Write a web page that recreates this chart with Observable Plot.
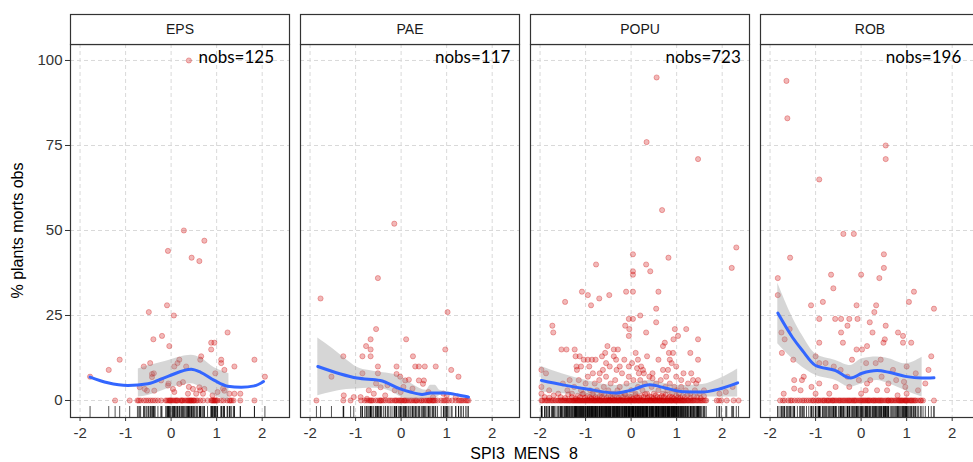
<!DOCTYPE html>
<html>
<head>
<meta charset="utf-8">
<script src="https://cdn.jsdelivr.net/npm/d3@7"></script>
<script src="https://cdn.jsdelivr.net/npm/@observablehq/plot@0.6"></script>
<style>
  html, body { margin: 0; padding: 0; background: #fff; overflow: hidden; }
  #chart { width: 973px; height: 462px; overflow: hidden; }
  #chart svg { max-width: none !important; }
</style>
</head>
<body>
<div id="chart"></div>
<script>
// ---------- categories ----------
const groups = ["EPS", "PAE", "POPU", "ROB"];
const nobs = [125, 117, 723, 196];
const nobsX = [2.26, 2.40, 2.41, 2.20];   // right end of the label (data units)
const nobsY = [101, 101, 101, 101];

const xTicks = [-2, -1, 0, 1, 2];
const yTicks = [0, 25, 50, 75, 100];

// ---------- observations: [x, y] (non-zero) and x of zero observations ----------
const epsPts = [[0.39,100],[0.28,50],[0.73,47],[-0.07,44],[0.45,42],[0.62,41],[-0.09,28],[-0.49,26],[0.06,25],
 [-0.39,18],[-0.2,19],[-0.04,16],[1.24,20],[0.88,17],[0.95,17],[0.88,15],[-1.13,12],[-1.37,9],[1.83,12],[-0.6,10],
 [-0.46,11],[0.18,12],[0.14,11],[0.07,10],[0.33,10],[0.66,13],[0.64,12],[1.1,12],[1.1,11],[1.39,10],[1.17,9],[0.97,8],
 [-0.38,8],[-0.06,5],[0.39,4],[0.64,3],[1.14,3.5],[1.39,2],[1.52,2],[2.06,7],[-1.78,7],
 [-0.69,3.9],[-0.58,3.4],[-0.53,2.9],[-0.42,7.8],[-0.42,6.9],[-0.37,2.9],[-0.22,5.9],[-0.07,4.4],[0.04,3.4],[0.07,2.5],
 [0.18,4.9],[0.26,5.4],[0.37,2],[0.48,3.4],[0.55,2],[0.62,3.9],[0.7,2],[0.73,3.4],[0.91,1.5],[1.02,2.5],[1.17,2.9],[1.28,2]];
const epsZeros = [-1.23,-0.91,-0.74,-0.71,-0.67,-0.6,-0.55,-0.5,-0.45,-0.4,-0.35,-0.29,-0.22,-0.12,-0.09,-0.06,-0.03,0.0,
 0.03,0.06,0.09,0.11,0.15,0.2,0.23,0.26,0.3,0.33,0.36,0.4,0.42,0.45,0.48,0.51,0.58,0.64,0.7,0.8,0.88,0.92,0.94,0.97,1.02,
 1.1,1.15,1.23,1.28,1.3,1.33,1.37,1.52,1.83,0.38,0.5,0.55,0.9,0.96,-0.02,0.13,0.24,0.44,1.0];

const paePts = [[-0.15,52],[-0.51,36],[-1.77,30],[1.02,26],[-0.55,21],[0.11,18],[-0.67,18],[-0.77,16],[-0.67,15],
 [-0.85,13],[-0.67,13],[-1.27,13],[0.26,13],[0.97,15],[-0.51,10],[-0.1,10],[0.31,10],[0.39,10],[0.52,10],[0.76,10],
 [1.1,9],[-0.85,8],[-0.51,8],[-1.53,7],[-0.1,7.8],[-0.02,7],[0.17,6.1],[0.09,5.9],[1.26,7],[0.39,5.9],[0.5,5.9],
 [0.48,4.9],[-0.45,3.9],[-0.6,2],[-0.71,3],[-0.89,1],[-0.75,0.5],[-0.14,3],[-0.01,2.5],[-1.26,1.5],[-1.04,1],[0.93,2],
 [1.0,1.5],[-0.3,4.5],[0.25,3.5],[0.6,2.5],[-0.35,1.5],[0.7,1],[1.2,1],[-0.55,5],[0.05,4]];
const paeZeros = [-1.86,-1.27,-1.11,-0.88,-0.8,-0.75,-0.7,-0.67,-0.62,-0.56,-0.51,-0.47,-0.43,-0.39,-0.34,-0.28,-0.24,
 -0.15,-0.12,-0.1,-0.06,-0.03,0.02,0.06,0.1,0.13,0.17,0.21,0.24,0.28,0.31,0.35,0.4,0.44,0.5,0.54,0.57,0.6,0.64,0.68,0.72,
 0.75,0.8,0.88,0.93,0.96,1.12,1.2,1.26,1.3,1.37,1.42,1.48,-0.65,-0.45,-0.2,0.0,0.08,0.33,0.46,0.62,0.7,1.0,1.05,1.33,1.45];

const popuPts = [[0.56,95],[0.34,76],[1.47,71],[0.68,56],[2.31,45],[2.21,39],[0.04,43],[0.82,42],[-0.77,40],[0.33,40],
 [0.42,38],[0.04,38],[0.04,37],[-1.08,32],[-0.95,31],[-0.88,28],[-1.45,29],[-0.7,30],[-0.48,31],[-0.11,32],[0.04,32],
 [0.6,32],[0.55,27],[-0.05,24],[0.04,24],[0.2,25],[-0.13,22],[-0.04,21],[0.55,23],[-1.73,22],[-1.71,20],[0.33,20],
 [-0.05,19],[0.96,21],[1.21,21],[1.03,19],[1.47,18],[0.93,18],[0.74,17],[0.7,16],[-1.53,15],[-1.42,15],[-1.24,15],
 [-0.52,16],[-0.38,15],[-0.29,15],[1.3,14],[0.92,14],[0.83,14],[1.47,12],[-1.22,13],[-1.13,13],[-1.04,12],[-0.95,12],
 [-0.86,12],[-0.78,12],[-0.64,13],[-0.57,14],[-0.38,13],[-0.33,12],[-1.2,10],[-1.1,10],[-1.19,9],[-0.84,8],[-0.62,9],
 [-0.69,8],[-0.47,10],[-0.32,9],[0.02,11],[0.13,9.5],[0.22,10],[0.26,9],[0.17,8],[0.28,8],[0.47,8],[0.47,6.5],[0.7,9],
 [0.81,9],[0.89,11],[0.99,10],[0.77,7],[0.99,7],[1.1,6],[1.15,8],[1.32,8],[1.36,6],[1.43,5],[1.47,6],[-1.97,9],[-1.87,8],
 [-1.97,4],[-1.97,2],[1.94,2],[2.08,2.5],[2.23,4],
 [-1.8,3],[-1.6,2],[-1.5,5],[-1.4,3],[-1.35,6],[-1.3,2],[-1.25,4],[-1.15,6],[-1.1,3],[-1.05,2],[-1.0,5],[-0.95,7],
 [-0.9,3],[-0.85,2],[-0.8,5],[-0.75,3],[-0.7,6],[-0.65,2],[-0.6,4],[-0.55,7],[-0.5,3],[-0.45,5],[-0.4,2],[-0.35,6],
 [-0.3,3],[-0.25,4],[-0.2,8],[-0.15,2],[-0.1,5],[-0.05,7],[0.0,3],[0.05,6],[0.1,2],[0.15,4],[0.2,6],[0.25,3],[0.3,5],
 [0.35,2],[0.4,7],[0.45,4],[0.5,2],[0.55,5],[0.6,3],[0.65,6],[0.7,2],[0.75,4],[0.8,3],[0.85,5],[0.9,2],[0.95,4],[1.0,3],
 [1.05,2],[1.1,4],[1.2,3],[1.25,5],[1.3,2],[1.4,3],[1.5,2],[1.6,3],[-0.92,10],[-0.15,12],[0.1,14],[0.35,13],[0.6,12],
 [-0.55,11],[0.15,12],[-0.25,10],[0.85,12],[-0.05,10]];
const popuLow = [[-1.9,1],[-1.8,0.8],[-1.7,1.5],[-1.55,1],[-1.45,0.7],[-1.38,1.8],[-1.3,1],[-1.22,0.6],[-1.17,1.4],
 [-1.12,1],[-1.07,1.9],[-1.01,0.8],[-0.96,1.3],[-0.91,1],[-0.87,0.6],[-0.83,1.6],[-0.78,1],[-0.74,0.7],[-0.69,1.3],
 [-0.64,1],[-0.59,1.8],[-0.54,0.8],[-0.5,1.2],[-0.45,1],[-0.41,0.6],[-0.36,1.5],[-0.31,1],[-0.27,0.8],[-0.22,1.3],
 [-0.18,1],[-0.13,1.8],[-0.09,0.7],[-0.04,1.2],[0.0,1],[0.04,0.6],[0.09,1.6],[0.13,1],[0.18,0.8],[0.22,1.4],[0.27,1],
 [0.31,1.9],[0.36,0.7],[0.4,1.2],[0.45,1],[0.49,0.6],[0.54,1.5],[0.58,1],[0.63,0.8],[0.67,1.3],[0.72,1],[0.76,1.7],
 [0.81,0.7],[0.85,1.2],[0.9,1],[0.94,0.6],[0.99,1.4],[1.03,1],[1.08,0.8],[1.13,1.3],[1.18,1],[1.24,1.6],[1.31,0.8],
 [1.38,1.2],[1.45,1],[1.53,0.7],[1.6,1.3]];
const popuZeros = [-1.97,-1.95,-1.9,-1.86,-1.83,-1.79,-1.75,-1.72,-1.68,-1.65,-1.61,-1.58,-1.55,-1.53,-1.5,-1.47,-1.45,
 -1.42,-1.4,-1.37,-1.35,-1.33,-1.3,-1.28,-1.26,-1.24,-1.22,-1.2,-1.18,-1.16,-1.14,-1.12,-1.1,-1.08,-1.06,-1.04,-1.02,-1.0,
 -0.98,-0.96,-0.94,-0.92,-0.9,-0.88,-0.86,-0.84,-0.82,-0.8,-0.79,-0.77,-0.75,-0.73,-0.71,-0.69,-0.67,-0.66,-0.64,-0.62,
 -0.6,-0.58,-0.56,-0.55,-0.53,-0.51,-0.49,-0.47,-0.46,-0.44,-0.42,-0.4,-0.38,-0.37,-0.35,-0.33,-0.31,-0.29,-0.28,-0.26,
 -0.24,-0.22,-0.2,-0.19,-0.17,-0.15,-0.13,-0.11,-0.1,-0.08,-0.06,-0.04,-0.02,-0.01,0.01,0.03,0.05,0.07,0.08,0.1,0.12,
 0.14,0.16,0.17,0.19,0.21,0.23,0.25,0.26,0.28,0.3,0.32,0.34,0.35,0.37,0.39,0.41,0.43,0.44,0.46,0.48,0.5,0.52,0.53,0.55,
 0.57,0.59,0.61,0.62,0.64,0.66,0.68,0.7,0.71,0.73,0.75,0.77,0.79,0.8,0.82,0.84,0.86,0.88,0.89,0.91,0.93,0.95,0.97,0.98,
 1.0,1.02,1.04,1.06,1.08,1.1,1.12,1.14,1.16,1.18,1.2,1.23,1.25,1.27,1.3,1.32,1.35,1.37,1.4,1.43,1.46,1.49,1.52,1.55,
 1.58,1.62,1.65,1.88,1.93,1.98,2.1,2.25,2.36];

const robPts = [[-1.64,94],[-1.62,83],[0.54,75],[0.54,71],[-0.92,65],[-0.39,49],[-0.16,49],[-1.56,42],[0.5,43],[0.5,39],
 [-0.66,37],[0.0,37],[0.4,36],[-1.83,36],[-0.61,33],[1.16,32],[-1.83,31],[-0.84,29],[1.05,29],[-1.1,28],[-0.1,28],
 [0.33,28],[1.6,27],[0.29,26],[-0.57,24],[-0.44,24],[-0.26,24],[-0.92,24],[-0.08,24],[0.19,23],[-0.3,22],[0.54,22],
 [-1.57,21],[-0.44,20],[0.25,20],[0.81,20],[-1.75,20],[0.92,19],[1.1,17],[-1.68,18],[0.52,18],[-0.92,17],[-0.4,17],
 [0.49,17],[0.92,17],[-0.1,15],[0.02,15],[0.13,16],[-1.74,14],[1.54,13],[-1.49,12],[0.43,12],[-0.2,12],[0.11,11],
 [0.32,11],[-1.0,13],[-0.92,11],[1.48,9],[-0.6,10],[-0.45,9],[-1.47,6],[-1.26,7],[-1.3,6],[-0.92,5],[-1.09,4],[-0.56,4],
 [-0.26,4],[0.13,5],[0.1,3],[0.57,3],[0.77,6],[0.94,5.5],[0.97,4],[1.41,5],[-1.7,2],[-1.47,3.5],[-1.33,3],
 [-0.78,11],[-0.3,7],[0.2,6],[0.45,7],[0.7,9],[1.0,10],[1.2,8],[-0.05,6],[0.35,3],[0.6,5],[1.0,2],[1.25,3],[-0.7,2],
 [-1.0,2],[0.0,2],[0.8,1.5]];
const robZeros = [-1.68,-1.6,-1.46,-1.4,-1.29,-1.2,-1.1,-1.04,-0.95,-0.89,-0.8,-0.71,-0.64,-0.6,-0.54,-0.48,-0.42,-0.36,
 -0.3,-0.27,-0.22,-0.16,-0.12,-0.05,0.0,0.05,0.1,0.17,0.22,0.3,0.35,0.4,0.45,0.55,0.61,0.65,0.7,0.76,0.82,0.86,0.9,0.95,
 1.0,1.05,1.1,1.15,1.2,1.3,1.36,1.6,-1.52,-1.35,-1.15,-0.99,-0.85,-0.76,-0.68,-0.57,-0.5,-0.45,-0.39,-0.33,-0.19,-0.09,
 -0.02,0.03,0.08,0.13,0.19,0.26,0.32,0.38,0.48,0.52,0.58,0.73,0.79,0.88,0.92,0.98,1.02,1.08,1.12,1.25,1.32,-1.78,-1.72,
 -1.55,-1.25,-1.06,-0.93,-0.62,-0.25,0.15,0.43,0.67,0.84,1.18,-0.82,-0.14,0.6,0.97,-0.73,0.27];

// ---------- loess smooth ----------
const epsLineX = [-1.78,-1.39,-0.95,-0.51,-0.07,0.44,0.65,0.95,1.24,1.54,1.83,2.03];
const epsLineY = [6.9,5.2,4.4,4.9,7.1,9.2,8.3,5.9,4.2,3.9,4.3,5.6];
const epsBandX = [-0.72,-0.51,-0.22,0.0,0.2,0.44,0.65,0.95,1.27];
const epsBandLo = [1.0,1.5,2.7,3.8,4.4,4.9,3.9,1.5,0.0];
const epsBandHi = [9.3,10.2,11.2,12.0,12.8,13.3,12.5,9.6,7.9];

const paeLineX = [-1.83,-1.33,-0.97,-0.46,-0.02,0.2,0.46,0.64,0.93,1.23,1.48];
const paeLineY = [10,7.8,6.6,5.9,3.4,2.5,1.8,2.2,2.2,1.7,1.0];
const paeBandX = [-1.83,-1.5,-1.2,-0.97,-0.7,-0.46,-0.2,0.0,0.2,0.4,0.55,0.65,0.75,0.85,1.0,1.2,1.48];
const paeBandLo = [1.4,2.5,3.2,3.4,3.6,3.5,2.5,1.0,0.2,0.2,0.6,0.6,0.6,1.5,1.8,1.4,0.8];
const paeBandHi = [18.4,15.2,12.0,9.8,8.8,8.3,7.8,7.0,5.2,3.6,3.0,4.5,4.5,3.0,2.6,2.0,1.2];

const popuLineX = [-1.97,-1.5,-0.98,-0.33,-0.03,0.41,0.77,1.14,1.57,1.94,2.34];
const popuLineY = [5.9,4.6,3.4,2.2,2.9,4.6,3.6,2.6,2.5,3.4,5.2];
const popuBandLo = [2.5,2.0,1.5,0.8,1.0,2.5,2.0,1.2,1.0,1.0,1.0];
const popuBandHi = [10,7.8,5.9,4.4,4.9,5.9,4.9,4.4,4.7,6.4,9.3];

const robLineX = [-1.83,-1.51,-1.29,-1.0,-0.56,-0.23,0.02,0.35,0.61,0.97,1.34,1.6];
const robLineY = [25.7,18.6,14.7,10.3,8.8,6.6,8.0,8.8,8.3,7.1,6.6,6.7];
const robBandX = [-1.83,-1.51,-1.29,-1.0,-0.56,-0.23,0.02,0.35,0.61,0.97,1.34];
const robBandLo = [16.7,12.3,9.8,7.4,5.9,3.9,4.9,5.9,4.9,2.9,1.0];
const robBandHi = [34.5,24.5,19.1,13.7,11.8,10.3,12.3,12.8,12.3,10.8,12.7];

// ---------- tables built from the arrays ----------
const ptsByGroup = {EPS: [epsPts, epsZeros], PAE: [paePts, paeZeros], POPU: [popuPts.concat(popuLow), popuZeros], ROB: [robPts, robZeros]};
const points = [];
for (const g of groups) {
  const [nz, zs] = ptsByGroup[g];
  for (const [x, y] of nz) points.push({g, x, y});
  for (const x of zs) points.push({g, x, y: 0});
}
const lines = [];
const addLine = (g, xs, ys) => xs.forEach((x, i) => lines.push({g, x, y: ys[i]}));
addLine("EPS", epsLineX, epsLineY); addLine("PAE", paeLineX, paeLineY);
addLine("POPU", popuLineX, popuLineY); addLine("ROB", robLineX, robLineY);
const bands = [];
const addBand = (g, xs, lo, hi) => xs.forEach((x, i) => bands.push({g, x, lo: lo[i], hi: hi[i]}));
addBand("EPS", epsBandX, epsBandLo, epsBandHi); addBand("PAE", paeBandX, paeBandLo, paeBandHi);
addBand("POPU", popuLineX, popuBandLo, popuBandHi); addBand("ROB", robBandX, robBandLo, robBandHi);
const labels = groups.map((g, i) => ({g, x: nobsX[i], y: nobsY[i], text: `nobs=${nobs[i]}`}));

const FONT = "'Liberation Sans', Arial, sans-serif";
const RED = "#cc0000";

const chart = Plot.plot({
  width: 981, height: 462,
  marginLeft: 69, marginRight: 0, marginTop: 44, marginBottom: 45,
  style: {fontFamily: FONT, fontSize: "15px", color: "#333", background: "#fff", maxWidth: "none"},
  fx: {domain: groups, paddingInner: 0.0476, paddingOuter: 0, axis: null, label: null},
  x: {domain: [-2.21, 2.6], ticks: xTicks, tickFormat: d => String(d), tickSize: 4, tickPadding: 6, label: null},
  y: {domain: [-5, 104.7], ticks: yTicks, tickFormat: d => String(d), tickSize: 5, tickPadding: 3, label: null},
  marks: [
    Plot.ruleX(xTicks, {stroke: "#d9d9d9", strokeDasharray: "4,3"}),
    Plot.ruleY(yTicks, {stroke: "#d9d9d9", strokeDasharray: "4,3"}),
    Plot.dot(points, {fx: "g", x: "x", y: "y", r: 2.6, fill: RED, fillOpacity: 0.28,
                      stroke: RED, strokeOpacity: 0.33, strokeWidth: 0.9}),
    Plot.areaY(bands, {fx: "g", x: "x", y1: "lo", y2: "hi", fill: "#999999", fillOpacity: 0.4, curve: "monotone-x"}),
    Plot.lineY(lines, {fx: "g", x: "x", y: "y", stroke: "#3366ff", strokeWidth: 3, curve: "monotone-x"}),
    Plot.ruleX(points, {fx: "g", x: "x", insetTop: 362, stroke: "#000", strokeWidth: 0.8, strokeOpacity: 0.85}),
    Plot.frame({stroke: "#333", strokeWidth: 1.2}),
    Plot.frame({insetTop: -30, insetBottom: 373, fill: "#fff", stroke: "#333", strokeWidth: 1.2}),
    Plot.text(groups, {fx: d => d, text: d => d, frameAnchor: "top", dy: -15, lineAnchor: "middle",
                       fontSize: 14, fill: "#1a1a1a"}),
    Plot.text(labels, {fx: "g", x: "x", y: "y", text: "text", textAnchor: "end", lineAnchor: "middle",
                       fontFamily: "Lato, 'Open Sans', sans-serif", fontSize: 17, fill: "#000"})
  ]
});

const svg = d3.select(chart);
svg.append("text")
  .attr("x", 524).attr("y", 458.5)
  .attr("text-anchor", "middle")
  .attr("xml:space", "preserve").style("white-space", "pre")
  .attr("font-family", FONT).attr("font-size", 16).attr("fill", "#000")
  .text("SPI3  MENS  8");
svg.append("text")
  .attr("transform", "translate(23,230.5) rotate(-90)")
  .attr("text-anchor", "middle")
  .attr("font-family", FONT).attr("font-size", 16).attr("fill", "#000")
  .text("% plants morts obs");

document.getElementById("chart").appendChild(chart);
</script>
</body>
</html>
